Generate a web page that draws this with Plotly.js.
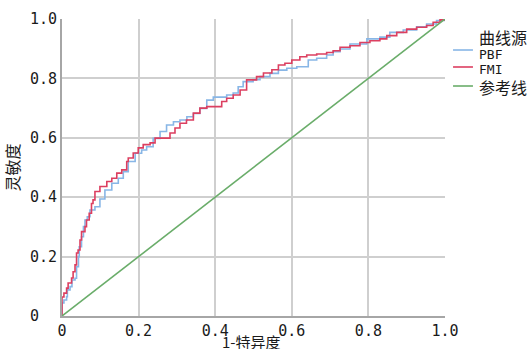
<!DOCTYPE html>
<html>
<head>
<meta charset="utf-8">
<script src="https://cdn.plot.ly/plotly-3.0.1.min.js"></script>
<style>html,body{margin:0;padding:0;background:#fff;}#chart{width:529px;height:349px;}</style>
</head>
<body>
<div id="chart"></div>
<script>
// ROC curve data (1 - specificity, sensitivity)
var pbfFpr = [0,0,0.005,0.012,0.014,0.021,0.026,0.034,0.038,0.043,0.045,0.051,0.056,0.060,0.066,0.073,0.086,0.099,0.112,0.130,0.147,0.160,0.173,0.191,0.208,0.221,0.238,0.256,0.273,0.291,0.308,0.326,0.343,0.360,0.378,0.395,0.430,0.447,0.460,0.473,0.499,0.517,0.543,0.565,0.587,0.613,0.639,0.643,0.665,0.691,0.708,0.726,0.752,0.796,0.830,0.856,0.891,0.926,0.952,0.978,1];
var pbfTpr = [0,0.044,0.054,0.065,0.088,0.099,0.121,0.127,0.166,0.200,0.233,0.267,0.301,0.323,0.334,0.357,0.368,0.394,0.424,0.447,0.464,0.486,0.520,0.548,0.559,0.570,0.598,0.621,0.643,0.654,0.660,0.671,0.682,0.699,0.727,0.737,0.744,0.751,0.772,0.789,0.796,0.806,0.817,0.828,0.834,0.839,0.839,0.862,0.868,0.879,0.890,0.899,0.916,0.933,0.939,0.955,0.963,0.974,0.983,0.995,1];

var fmiFpr = [0,0,0.005,0.012,0.016,0.025,0.029,0.034,0.038,0.042,0.047,0.051,0.060,0.064,0.071,0.077,0.081,0.086,0.099,0.117,0.130,0.143,0.156,0.169,0.173,0.186,0.199,0.212,0.230,0.243,0.264,0.282,0.295,0.308,0.325,0.343,0.360,0.378,0.408,0.417,0.430,0.447,0.465,0.482,0.508,0.526,0.548,0.565,0.582,0.600,0.621,0.639,0.665,0.691,0.708,0.726,0.752,0.778,0.804,0.830,0.848,0.874,0.900,0.926,0.952,0.969,0.987,1];
var fmiTpr = [0,0.064,0.077,0.094,0.111,0.128,0.149,0.172,0.212,0.222,0.256,0.284,0.301,0.323,0.346,0.379,0.391,0.419,0.436,0.453,0.464,0.481,0.492,0.520,0.532,0.549,0.566,0.577,0.583,0.599,0.599,0.616,0.633,0.649,0.660,0.683,0.700,0.705,0.705,0.722,0.733,0.744,0.761,0.795,0.806,0.818,0.829,0.845,0.851,0.862,0.873,0.879,0.882,0.887,0.893,0.905,0.910,0.921,0.927,0.933,0.944,0.955,0.966,0.972,0.978,0.989,0.997,1];

var refX = [0,1];
var refY = [0,1];

var tickVals = [0,0.2,0.4,0.6,0.8,1.0];
var tickTextX = ['0','0.2','0.4','0.6','0.8','1.0'];
var tickTextY = ['0\u00a0\u00a0','0.2','0.4','0.6','0.8','1.0'];

var seriesNames = ['PBF','FMI','参考线'];
var seriesColors = ['#88b6e6','#dc3f60','#6aad6a'];
var legendTitle = '曲线源';
var xTitle = '1-特异度';
var yTitle = '灵敏度';

var traces = [
  {x: pbfFpr, y: pbfTpr, name: seriesNames[0], type: 'scatter', mode: 'lines',
   line: {color: seriesColors[0], width: 1.6, shape: 'hv'}},
  {x: fmiFpr, y: fmiTpr, name: seriesNames[1], type: 'scatter', mode: 'lines',
   line: {color: seriesColors[1], width: 1.6, shape: 'hv'}},
  {x: refX, y: refY, name: seriesNames[2], type: 'scatter', mode: 'lines',
   line: {color: seriesColors[2], width: 1.6}}
];

var tickFont = {family: 'DejaVu Sans Mono, monospace', size: 15, color: '#1a1a1a'};
var cjkFont = 'Noto Sans CJK SC, sans-serif';
var textColor = '#1a1a1a';

// Legend drawn by hand (line samples + labels) in paper coordinates
var legLineX0 = 1.021, legLineX1 = 1.073, legTextX = 1.086;
var legLineY = [0.8956, 0.8384, 0.7744];
var legTextY = [0.8788, 0.8283, 0.7710];
var legFonts = [
  {family: 'DejaVu Sans Mono, monospace', size: 13, color: textColor},
  {family: 'DejaVu Sans Mono, monospace', size: 13, color: textColor},
  {family: cjkFont, size: 16, color: textColor}
];

var shapes = [];
var annotations = [];
for (var i = 0; i < seriesNames.length; i++) {
  shapes.push({type: 'line', xref: 'paper', yref: 'paper',
    x0: legLineX0, x1: legLineX1, y0: legLineY[i], y1: legLineY[i],
    line: {color: seriesColors[i], width: 1.6}});
  annotations.push({xref: 'paper', yref: 'paper', x: legTextX, y: legTextY[i],
    xanchor: 'left', yanchor: 'middle', showarrow: false, text: seriesNames[i], font: legFonts[i],
    borderpad: 0});
}
annotations.push({xref: 'paper', yref: 'paper', x: legTextX, y: 0.9394,
  xanchor: 'left', yanchor: 'middle', showarrow: false, text: legendTitle, borderpad: 0,
  font: {family: cjkFont, size: 16, color: textColor}});
annotations.push({xref: 'paper', yref: 'paper', x: 0.4935, y: -0.0875,
  xanchor: 'center', yanchor: 'middle', showarrow: false, text: xTitle, borderpad: 0,
  font: {family: cjkFont, size: 15, color: textColor}});

var layout = {
  width: 529, height: 349,
  margin: {l: 62, r: 84, t: 19, b: 33, pad: 0},
  paper_bgcolor: '#ffffff', plot_bgcolor: '#ffffff',
  showlegend: false,
  shapes: shapes,
  annotations: annotations,
  xaxis: {
    range: [0, 1], tickvals: tickVals, ticktext: tickTextX,
    showgrid: true, gridcolor: '#cfcfcf', gridwidth: 2,
    showline: true, linecolor: '#a6a6a6', linewidth: 2,
    zeroline: false, ticks: '', tickfont: tickFont, automargin: false
  },
  yaxis: {
    range: [0, 1], tickvals: tickVals, ticktext: tickTextY,
    showgrid: true, gridcolor: '#cfcfcf', gridwidth: 2,
    showline: true, linecolor: '#a6a6a6', linewidth: 2,
    zeroline: false, ticks: '', tickfont: tickFont, automargin: false,
    title: {text: yTitle, font: {family: cjkFont, size: 16, color: textColor}, standoff: 6}
  }
};

Plotly.newPlot('chart', traces, layout, {displayModeBar: false, staticPlot: true});
</script>
</body>
</html>
